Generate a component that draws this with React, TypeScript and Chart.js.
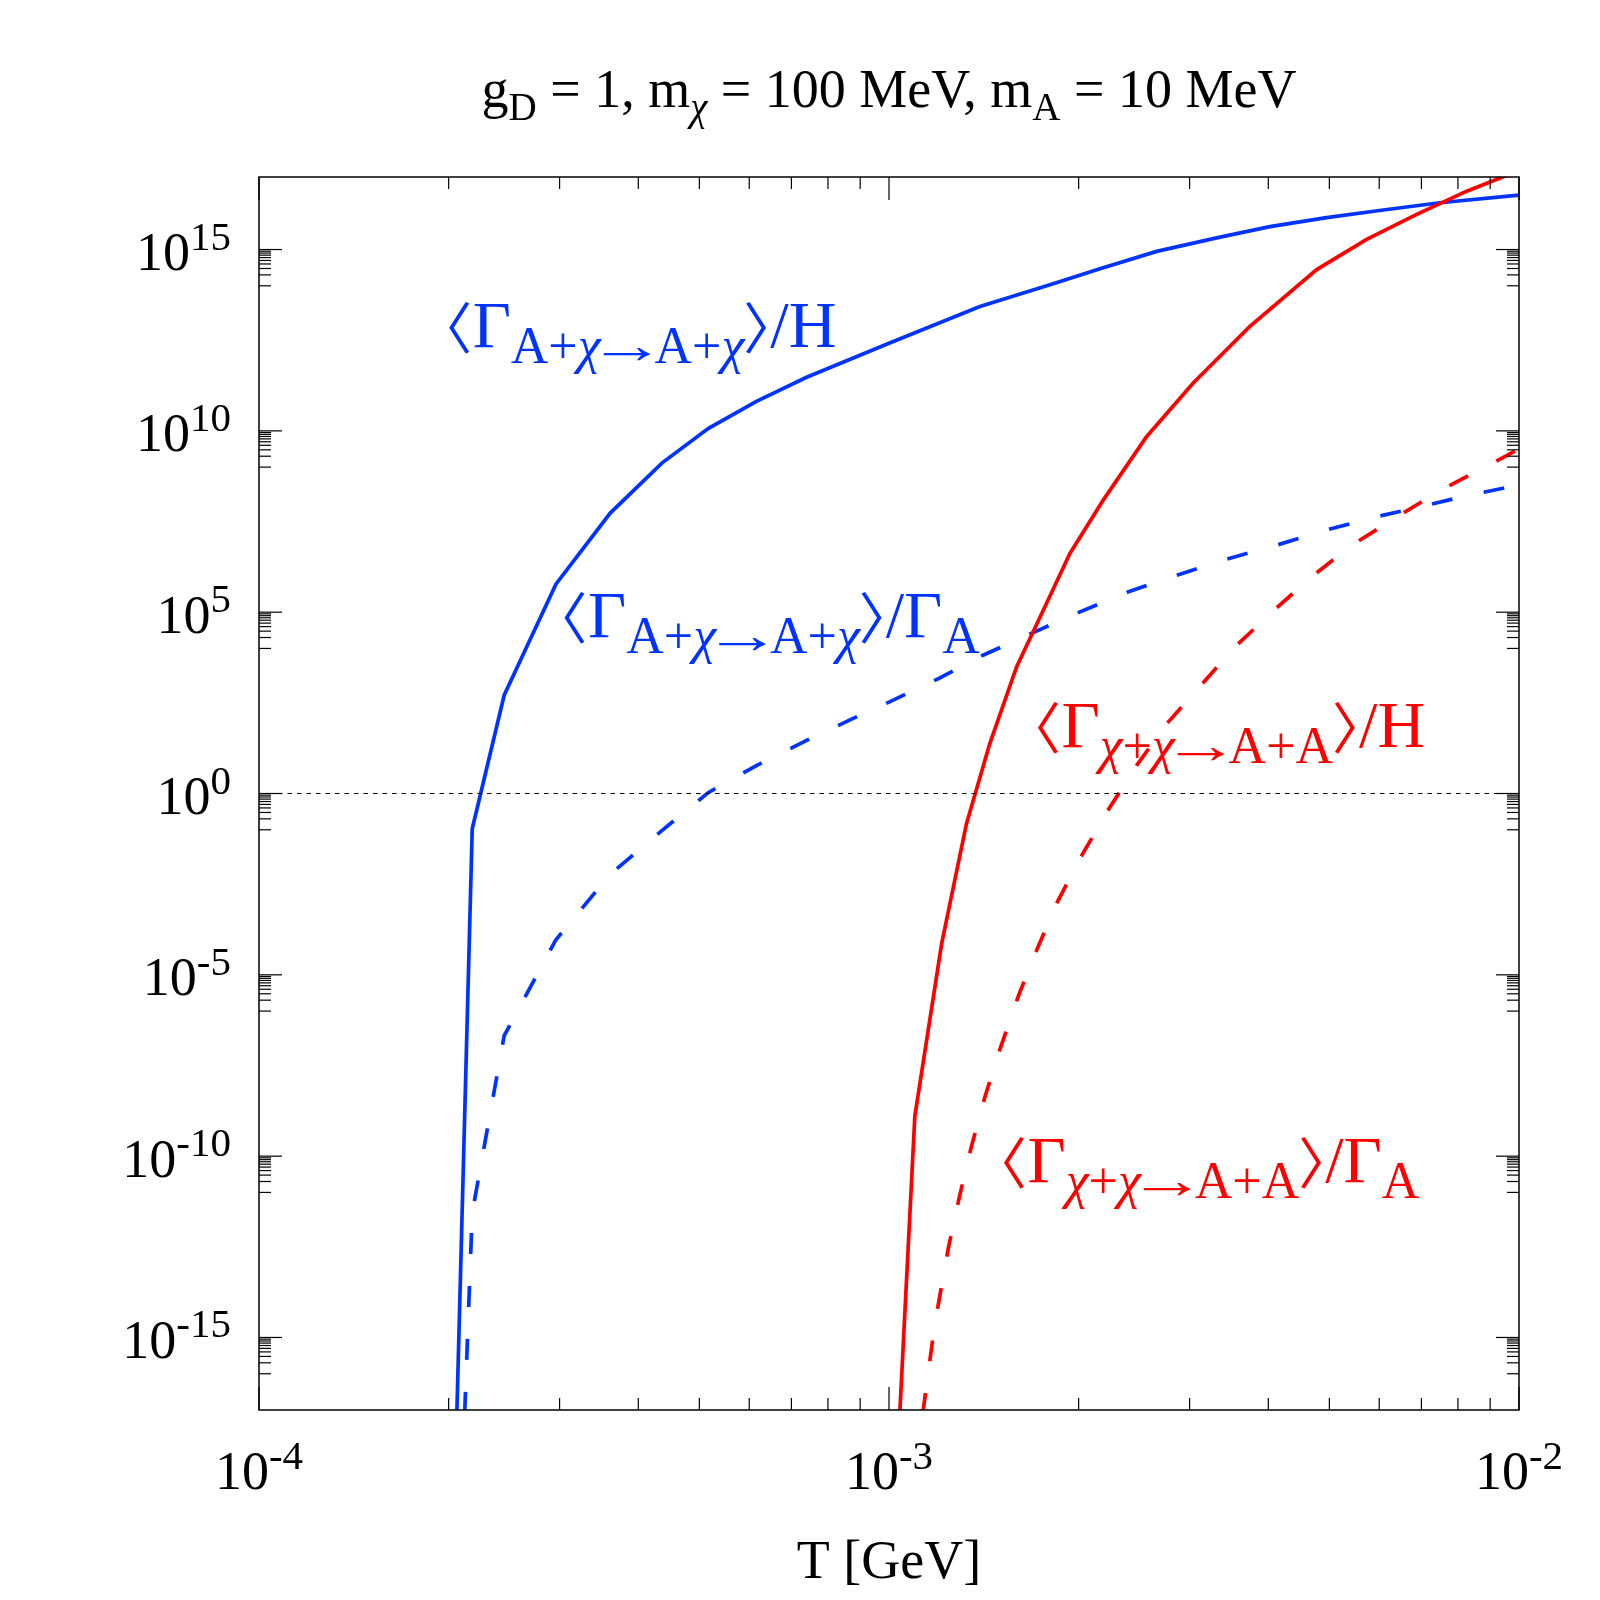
import React, { useEffect, useRef } from 'react'
import { Chart, registerables } from 'chart.js'

Chart.register(...registerables)

const FONT = '"Liberation Serif", "Times New Roman", "DejaVu Serif", serif'
const CJK = '"Noto Sans CJK JP", "Noto Sans CJK SC", sans-serif'
const BLUE = '#0033ff'
const RED = '#ff0000'

// <Γ(A+χ→A+χ)>/H  (blue, solid)
const tBlueSolid = [2.04e-4, 2.18e-4, 2.45e-4, 2.96e-4, 3.61e-4, 4.36e-4, 5.17e-4, 6.16e-4, 7.4e-4, 1.0e-3, 1.394e-3, 1.801e-3, 2.162e-3, 2.66e-3, 3.311e-3, 4.024e-3, 4.95e-3, 6.088e-3, 7.491e-3, 1.0e-2]
const rBlueSolid = [1e-20, 0.106, 513, 5.9e5, 5.4e7, 1.29e9, 1.17e10, 6.5e10, 3.0e11, 2.6e12, 2.7e13, 1.07e14, 2.95e14, 8.9e14, 2.09e15, 4.27e15, 7.6e15, 1.23e16, 1.95e16, 3.16e16]

// <Γ(A+χ→A+χ)>/Γ_A  (blue, dashed)
const tBlueDashed = [2.09e-4, 2.18e-4, 2.45e-4, 2.96e-4, 3.61e-4, 4.36e-4, 5.17e-4, 6.16e-4, 7.4e-4, 8.67e-4, 1.0e-3, 1.196e-3, 1.41e-3, 1.68e-3, 2.01e-3, 2.394e-3, 2.864e-3, 3.439e-3, 4.128e-3, 4.957e-3, 5.948e-3, 6.914e-3, 8.3e-3, 1.0e-2]
const rBlueDashed = [1e-20, 2.7e-12, 2.1e-7, 9.3e-5, 5.9e-3, 9.5e-2, 1.07, 5.9, 29, 107, 331, 1.45e3, 6.5e3, 2.57e4, 1.02e5, 3.6e5, 1.05e6, 2.9e6, 7.1e6, 1.86e7, 4.3e7, 7.8e7, 1.66e8, 3.2e8]

// <Γ(χ+χ→A+A)>/H  (red, solid)
const tRedSolid = [1.02e-3, 1.099e-3, 1.212e-3, 1.327e-3, 1.445e-3, 1.594e-3, 1.778e-3, 1.937e-3, 2.188e-3, 2.563e-3, 3.04e-3, 3.74e-3, 4.774e-3, 5.73e-3, 6.88e-3, 8.26e-3, 1.0e-2]
const rRedSolid = [1e-20, 1.26e-9, 7.1e-5, 0.145, 23.4, 3.1e3, 1.74e5, 4.17e6, 1.23e8, 6.9e9, 2.09e11, 7.6e12, 2.8e14, 1.9e15, 9.3e15, 4.07e16, 1.5e17]

// <Γ(χ+χ→A+A)>/Γ_A  (red, dashed)
const tRedDashed = [1.072e-3, 1.132e-3, 1.182e-3, 1.243e-3, 1.293e-3, 1.352e-3, 1.422e-3, 1.504e-3, 1.608e-3, 1.718e-3, 1.849e-3, 2.026e-3, 2.234e-3, 2.471e-3, 2.76e-3, 3.126e-3, 3.54e-3, 4.058e-3, 4.697e-3, 5.436e-3, 6.41e-3, 7.54e-3, 8.94e-3, 1.0e-2]
const rRedDashed = [1e-20, 8.7e-18, 2.3e-15, 3.1e-13, 7.4e-12, 1.9e-10, 4.7e-9, 1.02e-7, 2.9e-6, 5.1e-5, 1.0e-3, 2.07e-2, 0.38, 5.9, 84, 955, 1.1e4, 1.02e5, 9.8e5, 7.1e6, 4.3e7, 2.4e8, 1.12e9, 3.2e9]

const unityT = [1e-4, 1e-2]
const unityR = [1, 1]

const xMajor = [1e-4, 1e-3, 1e-2]
const xMajorExp = ['-4', '-3', '-2']
const yMajor = [1e-15, 1e-10, 1e-5, 1, 1e5, 1e10, 1e15]
const yMajorExp = ['-15', '-10', '-5', '0', '5', '10', '15']

// curve labels: [process, denominator, denominator subscript]
const labelProc = ['A+χ→A+χ', 'A+χ→A+χ', 'χ+χ→A+A', 'χ+χ→A+A']
const labelDen = ['H', 'Γ', 'H', 'Γ']
const labelDenSub = ['', 'A', '', 'A']
const labelColor = [BLUE, BLUE, RED, RED]
const labelT = [2.0e-4, 3.05e-4, 1.72e-3, 1.52e-3]
const labelR = [2.1e12, 2.1e4, 19.5, 1.96e-11]

type Run = {
	text: string
	size: number
	dy: number
	italic?: boolean
	family?: string
	fitV?: [number, number] // ink top / bottom relative to baseline
	fitW?: number // ink width
	pad?: [number, number]
}

function fontOf(r: Run, size: number) {
	return `${r.italic ? 'italic ' : ''}${size}px ${r.family || FONT}`
}

function layoutRun(ctx: CanvasRenderingContext2D, r: Run) {
	let size = r.size
	let dy = r.dy
	if (r.fitV) {
		ctx.font = fontOf(r, 100)
		const m = ctx.measureText(r.text)
		const h = m.actualBoundingBoxAscent + m.actualBoundingBoxDescent
		size = (100 * (r.fitV[1] - r.fitV[0])) / h
		dy = r.fitV[0] + (m.actualBoundingBoxAscent * size) / 100
	}
	ctx.font = fontOf(r, size)
	const m = ctx.measureText(r.text)
	const tight = !!(r.fitV || r.fitW || r.pad)
	if (!tight) return { size, dy, width: m.width, shift: 0, sx: 1 }
	const ink = m.actualBoundingBoxLeft + m.actualBoundingBoxRight
	const sx = r.fitW ? r.fitW / ink : 1
	const [pl, pr] = r.pad || [1, 1]
	return { size, dy, width: pl + ink * sx + pr, shift: pl + m.actualBoundingBoxLeft * sx, sx }
}

function drawRuns(
	ctx: CanvasRenderingContext2D,
	runs: Run[],
	x: number,
	y: number,
	align: 'left' | 'center' | 'right'
) {
	const lay = runs.map((r) => layoutRun(ctx, r))
	const total = lay.reduce((s, l) => s + l.width, 0)
	let cx = align === 'left' ? x : align === 'center' ? x - total / 2 : x - total
	ctx.textBaseline = 'alphabetic'
	ctx.textAlign = 'left'
	runs.forEach((r, i) => {
		const l = lay[i]
		ctx.font = fontOf(r, l.size)
		ctx.save()
		ctx.translate(cx + l.shift, y + l.dy)
		ctx.scale(l.sx, 1)
		ctx.fillText(r.text, 0, 0)
		ctx.restore()
		cx += l.width
	})
}

// split a subscript so χ is italic and the arrow is drawn long
function subRuns(text: string, size: number, dy: number): Run[] {
	const out: Run[] = []
	for (const ch of text) {
		if (ch === 'χ') out.push({ text: ch, size, dy, italic: true })
		else if (ch === '→') out.push({ text: ch, size, dy, fitW: 48, pad: [2, 4] })
		else out.push({ text: ch, size, dy })
	}
	return out
}

const pairs = (t: number[], r: number[]) => t.map((v, i) => ({ x: v, y: r[i] }))

const framePlugin = {
	id: 'framePlugin',
	afterDraw(chart: Chart) {
		const { ctx, chartArea: a } = chart
		const xs = chart.scales.x
		const ys = chart.scales.y
		ctx.save()
		ctx.strokeStyle = '#000'
		ctx.fillStyle = '#000'

		// ticks
		ctx.lineWidth = 1.2
		const tick = (x1: number, y1: number, x2: number, y2: number) => {
			ctx.beginPath()
			ctx.moveTo(x1, y1)
			ctx.lineTo(x2, y2)
			ctx.stroke()
		}
		xMajor.forEach((m, i) => {
			const px = xs.getPixelForValue(m)
			tick(px, a.bottom, px, a.bottom - 23)
			tick(px, a.top, px, a.top + 23)
			if (i < xMajor.length - 1) {
				for (let k = 2; k <= 9; k++) {
					const q = xs.getPixelForValue(m * k)
					tick(q, a.bottom, q, a.bottom - 12)
					tick(q, a.top, q, a.top + 12)
				}
			}
		})
		yMajor.forEach((m) => {
			const py = ys.getPixelForValue(m)
			tick(a.left, py, a.left + 23, py)
			tick(a.right, py, a.right - 23, py)
			for (let k = 1; k <= 9; k++) {
				const q = ys.getPixelForValue((m * k) / 10)
				tick(a.left, q, a.left + 12, q)
				tick(a.right, q, a.right - 12, q)
			}
		})

		// frame
		ctx.lineWidth = 1.5
		ctx.strokeRect(a.left, a.top, a.right - a.left, a.bottom - a.top)

		// tick labels
		xMajor.forEach((m, i) => {
			const px = xs.getPixelForValue(m)
			drawRuns(
				ctx,
				[
					{ text: '10', size: 54, dy: 0 },
					{ text: xMajorExp[i], size: 41, dy: -20 },
				],
				px,
				a.bottom + 79,
				'center'
			)
		})
		yMajor.forEach((m, i) => {
			const py = ys.getPixelForValue(m)
			drawRuns(
				ctx,
				[
					{ text: '10', size: 54, dy: 0 },
					{ text: yMajorExp[i], size: 41, dy: -20.5 },
				],
				a.left - 28,
				py + 20.5,
				'right'
			)
		})

		// axis title and plot title
		const cx = (a.left + a.right) / 2
		drawRuns(ctx, [{ text: 'T [GeV]', size: 54, dy: 0 }], cx, 1578, 'center')
		drawRuns(
			ctx,
			[
				{ text: 'g', size: 54, dy: 0 },
				{ text: 'D', size: 39, dy: 13 },
				{ text: ' = 1, m', size: 54, dy: 0 },
				{ text: 'χ', size: 39, dy: 13, italic: true },
				{ text: ' = 100 MeV, m', size: 54, dy: 0 },
				{ text: 'A', size: 39, dy: 13 },
				{ text: ' = 10 MeV', size: 54, dy: 0 },
			],
			cx,
			107,
			'center'
		)

		// curve labels
		labelProc.forEach((proc, i) => {
			ctx.fillStyle = labelColor[i]
			const runs: Run[] = [
				{ text: '〈', size: 66, dy: 0, family: CJK, fitV: [-45, 7], pad: [0, 3] },
				{ text: 'Γ', size: 66, dy: 0 },
				...subRuns(proc, 52, 16),
				{ text: '〉', size: 66, dy: 0, family: CJK, fitV: [-45, 7], pad: [1, 4] },
				{ text: '/' + labelDen[i], size: 66, dy: 0 },
			]
			if (labelDenSub[i]) runs.push({ text: labelDenSub[i], size: 52, dy: 16 })
			drawRuns(
				ctx,
				runs,
				xs.getPixelForValue(labelT[i]),
				ys.getPixelForValue(labelR[i]),
				'left'
			)
		})
		ctx.restore()
	},
}

const line = (data: { x: number; y: number }[], color: string, dashed: boolean) => ({
	data,
	showLine: true,
	borderColor: color,
	backgroundColor: color,
	borderWidth: 3.7,
	borderDash: dashed ? [21, 32] : [],
	pointRadius: 0,
	tension: 0,
	clip: 0,
})

const App: React.FC = () => {
	const chartRef = useRef<HTMLCanvasElement>(null)

	useEffect(() => {
		document.body.style.margin = '0'
		if (!chartRef.current) return
		const context = chartRef.current.getContext('2d')
		if (!context) return

		const chart = new Chart(context, {
			type: 'scatter',
			data: {
				datasets: [
					{
						...line(pairs(unityT, unityR), '#000', false),
						borderWidth: 1.2,
						borderDash: [4.5, 5],
					},
					line(pairs(tRedSolid, rRedSolid), RED, false),
					line(pairs(tRedDashed, rRedDashed), RED, true),
					line(pairs(tBlueSolid, rBlueSolid), BLUE, false),
					line(pairs(tBlueDashed, rBlueDashed), BLUE, true),
				],
			},
			options: {
				responsive: false,
				animation: false,
				devicePixelRatio: 1,
				layout: { padding: { left: 259, right: 81, top: 177, bottom: 190 } },
				plugins: {
					legend: { display: false },
					tooltip: { enabled: false },
				},
				scales: {
					x: { type: 'logarithmic', min: 1e-4, max: 1e-2, display: false },
					y: { type: 'logarithmic', min: 1e-17, max: 1e17, display: false },
				},
			},
			plugins: [framePlugin],
		})

		return () => {
			chart.destroy()
		}
	}, [])

	return (
		<div style={{ position: 'absolute', left: 0, top: 0, width: 1600, height: 1600, background: '#fff' }}>
			<canvas ref={chartRef} width={1600} height={1600} />
		</div>
	)
}

export default App
